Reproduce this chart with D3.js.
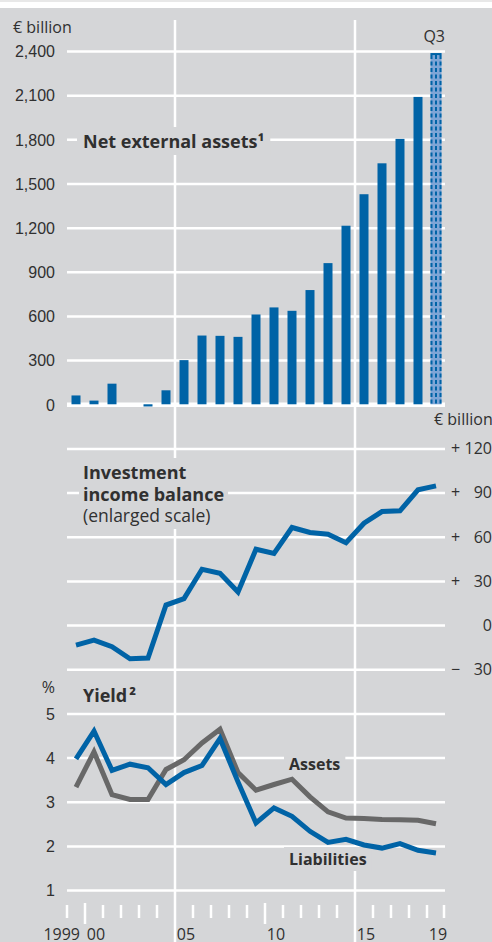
<!DOCTYPE html>
<html>
<head>
<meta charset="utf-8">
<script src="https://cdn.jsdelivr.net/npm/d3@7"></script>
<style>
  body { margin: 0; background: #fff; }
  svg { display: block; font-family: "Open Sans", "Noto Sans", sans-serif; }
</style>
</head>
<body>
<div id="chart"></div>
<script>
// chart values
const years = [1999, 2000, 2001, 2002, 2003, 2004, 2005, 2006, 2007, 2008, 2009,
               2010, 2011, 2012, 2013, 2014, 2015, 2016, 2017, 2018, 2019];
const netAssets = [60, 25, 140, 0, -15, 95, 300, 467, 465, 458, 610,
                   658, 635, 776, 959, 1213, 1427, 1637, 1803, 2088, 2386];
const incomeBalance = [-13.6, -10.2, -14.7, -22.9, -22.4, 13.6, 18, 37.9, 35.2, 22.5, 51.5,
                       48.6, 66.3, 62.9, 61.7, 56, 69.2, 77.1, 77.6, 91.9, 94.6];
const yieldAssets = [3.33, 4.13, 3.16, 3.05, 3.05, 3.73, 3.95, 4.33, 4.64, 3.66, 3.26,
                     3.39, 3.51, 3.11, 2.77, 2.63, 2.62, 2.6, 2.59, 2.58, 2.5];
const yieldLiabilities = [3.97, 4.6, 3.71, 3.85, 3.77, 3.39, 3.66, 3.82, 4.43, 3.45, 2.52,
                          2.86, 2.67, 2.33, 2.08, 2.15, 2.02, 1.95, 2.05, 1.9, 1.84];
const assetTicks = [0, 300, 600, 900, 1200, 1500, 1800, 2100, 2400];
const incomeTicks = [-30, 0, 30, 60, 90, 120];
const yieldTicks = [1, 2, 3, 4, 5];
const yearLabelYears = [1999, 2000, 2005, 2010, 2015, 2019];
const yearLabels = ['1999', '00', '05', '10', '15', '19'];
const decadeYears = [2000, 2010];
const splitYears = [2005, 2015];
const provisionalYear = 2019;

const width = 492, height = 942;
const bg = '#d5d6d8', blue = '#0063a6', lightBlue = '#7ea5d6', grey = '#686868', ink = '#303030';

const svg = d3.select('#chart').append('svg')
    .attr('width', width)
    .attr('height', height);

svg.append('rect').attr('x', 0).attr('y', 0).attr('width', width).attr('height', 2).attr('fill', '#e8e8e8');
svg.append('rect').attr('x', 0).attr('y', 8).attr('width', width).attr('height', height - 8).attr('fill', bg);

let x = d3.scaleBand().domain(years).range([67, 445]).paddingInner(0).paddingOuter(0);
let cx = d => x(d) + x.bandwidth() / 2;

// all three panels share one even grid of 44.16 px rows
const row0 = 51, step = 44.16;
let yBars = d3.scaleLinear().domain([0, 2400]).range([row0 + 8 * step, row0]);
let yIncome = d3.scaleLinear().domain([-30, 120]).range([row0 + 14 * step, row0 + 9 * step]);
let yYield = d3.scaleLinear().domain([1, 5]).range([row0 + 19 * step, row0 + 15 * step]);

const gridW = x.range()[1] - x.range()[0];

function grid(scale, ticks, labels) {
    let axis = d3.axisLeft(scale).tickValues(ticks).tickSize(-gridW).tickPadding(12)
        .tickFormat(labels ? labels : '');
    let g = svg.append('g')
        .attr('transform', 'translate(' + x.range()[0] + ',0)')
        .call(axis);
    g.select('.domain').remove();
    g.selectAll('line').attr('stroke', '#fff').attr('stroke-width', 2.5);
    g.selectAll('text').attr('fill', ink).style('font-size', '16px').attr('dy', '0.36em');
    return g;
}

let barGrid = grid(yBars, assetTicks, d3.format(','));
barGrid.selectAll('.tick').filter(d => d === 0).select('line').attr('stroke-width', 4.5);
grid(yIncome, incomeTicks, null);
grid(yYield, yieldTicks, d3.format('d'));

// vertical separators and year ticks
svg.selectAll('.split').data(splitYears).enter().append('line')
    .attr('x1', d => x(d)).attr('x2', d => x(d))
    .attr('y1', 20).attr('y2', height)
    .attr('stroke', '#fff').attr('stroke-width', 2.5);

let edges = years.concat([2020]);
let boundaries = years.map(d => x(d)).concat([x.range()[1] - 1]);
svg.selectAll('.ytick').data(edges).enter().append('line')
    .filter(d => splitYears.indexOf(d) < 0)
    .attr('x1', d => boundaries[edges.indexOf(d)])
    .attr('x2', d => boundaries[edges.indexOf(d)])
    .attr('y1', d => decadeYears.indexOf(d) >= 0 ? 903 : 905)
    .attr('y2', d => decadeYears.indexOf(d) >= 0 ? 924 : 918)
    .attr('stroke', '#fff').attr('stroke-width', 2.5);

svg.selectAll('.ylab').data(yearLabelYears).enter().append('text')
    .attr('x', (d, i) => i === 0 ? cx(d) + 4 : cx(d) + 2)
    .attr('y', 940)
    .attr('text-anchor', (d, i) => i === 0 ? 'end' : 'middle')
    .attr('fill', ink).style('font-size', '16px')
    .text((d, i) => yearLabels[i]);

// right-hand labels for the income balance
let incLab = svg.selectAll('.ilab').data(incomeTicks).enter().append('g');
incLab.append('text')
    .attr('x', 451).attr('y', d => yIncome(d)).attr('dy', '0.36em')
    .attr('fill', ink).style('font-size', '16px')
    .text(d => d > 0 ? '+' : d < 0 ? '\u2212' : '');
incLab.append('text')
    .attr('x', 492).attr('y', d => yIncome(d)).attr('dy', '0.36em')
    .attr('text-anchor', 'end')
    .attr('fill', ink).style('font-size', '16px')
    .text(d => Math.abs(d));

// unit labels
function label(txt, px, py, opts) {
    opts = opts || {};
    let t = svg.append('text')
        .attr('x', px).attr('y', py)
        .attr('text-anchor', opts.anchor || 'start')
        .attr('fill', ink)
        .style('font-size', (opts.size || 16) + 'px')
        .style('font-weight', opts.bold ? 700 : 400)
        .text(txt);
    return t;
}
label('\u20ac billion', 13, 33);
label('\u20ac billion', 434, 425);
label('%', 55, 693, {anchor: 'end'});
label('Q3', 445, 42, {anchor: 'end'});

// titles with a background knock-out behind them
function knock(lines, px, py, lh, padX, padY, size) {
    let g = svg.append('g');
    let r = g.append('rect').attr('fill', bg);
    lines.forEach((l, i) => {
        let t = g.append('text')
            .attr('x', px).attr('y', py + i * lh)
            .attr('fill', ink)
            .style('font-size', (l.size || size) + 'px')
            .style('font-weight', l.bold ? 700 : 400);
        t.append('tspan').text(l.text);
        if (l.sup) t.append('tspan').attr('dx', l.supGap || 0).text(l.sup);
    });
    let b = g.node().getBBox();
    r.attr('x', b.x - padX).attr('y', b.y - padY)
        .attr('width', b.width + 2 * padX).attr('height', b.height + 2 * padY);
}
knock([{text: 'Net external assets', sup: '\u00b9', bold: true}], 83, 148, 21, 6, 2, 18);
knock([{text: 'Investment', bold: true}, {text: 'income balance', bold: true},
       {text: '(enlarged scale)', bold: false, size: 17.5}], 83, 479, 21.5, 4, 2, 18);
knock([{text: 'Yield', sup: '\u00b2', supGap: 2, bold: true}], 83, 702, 21, 4, 2, 18);
knock([{text: 'Assets', bold: true}], 289, 770, 21, 5, 1, 16);
knock([{text: 'Liabilities', bold: true}], 289, 865, 21, 5, 1, 16);

// bars
let barData = years.map((d, i) => ({year: d, v: netAssets[i]}));
let bw = 9;
svg.selectAll('.bar').data(barData.filter(d => d.year !== provisionalYear)).enter()
    .append('rect')
    .attr('x', d => cx(d.year) - bw / 2)
    .attr('y', d => Math.min(yBars(d.v), yBars(0)))
    .attr('width', bw)
    .attr('height', d => Math.abs(yBars(0) - yBars(d.v)))
    .attr('fill', blue);

// provisional Q3 bar: light fill, dashed dark edges and centre
let q = barData.filter(d => d.year === provisionalYear)[0];
let qw = 11, qx = cx(q.year) - qw / 2, qy = yBars(q.v);
svg.append('rect')
    .attr('x', qx).attr('y', qy).attr('width', qw).attr('height', yBars(0) - qy)
    .attr('fill', lightBlue);
svg.append('line')
    .attr('x1', qx).attr('x2', qx + qw).attr('y1', qy + 1).attr('y2', qy + 1)
    .attr('stroke', blue).attr('stroke-width', 2);
[1, qw / 2, qw - 1].forEach(o => {
    svg.append('line')
        .attr('x1', qx + o).attr('x2', qx + o)
        .attr('y1', qy + 2).attr('y2', yBars(0))
        .attr('stroke', blue).attr('stroke-width', 2)
        .attr('stroke-dasharray', '4,2.5');
});

// lines
function drawLine(vals, scale, color) {
    let line = d3.line().x((d, i) => cx(years[i])).y(d => scale(d));
    svg.append('path')
        .datum(vals)
        .attr('d', line)
        .attr('fill', 'none')
        .attr('stroke', color)
        .attr('stroke-width', 5);
}
drawLine(incomeBalance, yIncome, blue);
drawLine(yieldAssets, yYield, grey);
drawLine(yieldLiabilities, yYield, blue);
</script>
</body>
</html>
